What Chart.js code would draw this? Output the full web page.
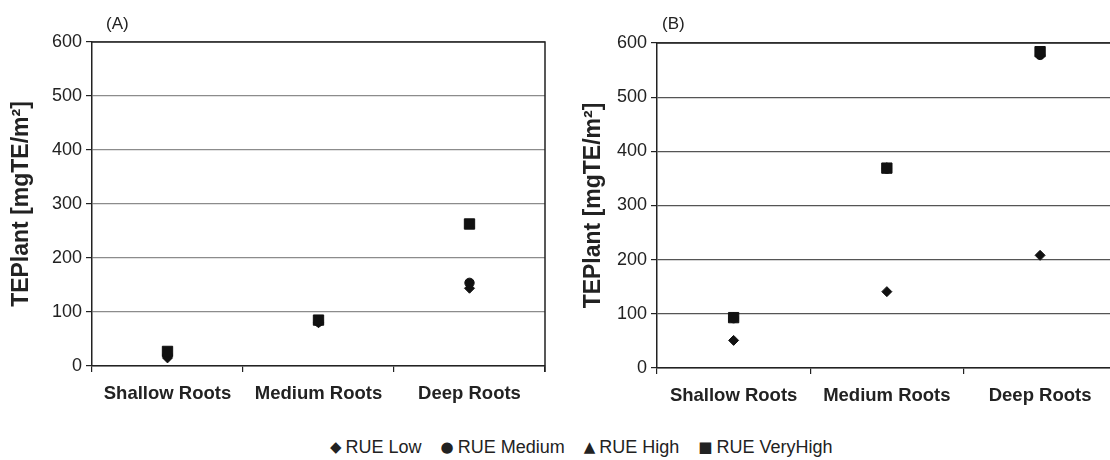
<!DOCTYPE html>
<html>
<head>
<meta charset="utf-8">
<script src="https://cdn.jsdelivr.net/npm/chart.js@4.4.1/dist/chart.umd.min.js"></script>
<style>
  html, body { margin:0; padding:0; background:#fff; width:1110px; height:460px; overflow:hidden; position:relative; font-family:"Liberation Sans", Arial, sans-serif; color:#222; }
  .wrap { position:absolute; top:0; }
  .panel { position:absolute; font-size:17px; color:#222; }
  #legend { position:absolute; left:330px; top:437px; font-size:18px; white-space:nowrap; color:#222; }
  #legend span.item { margin-right:14px; }
  #legend span.sym { font-family:"DejaVu Sans", sans-serif; font-size:15px; margin-right:4px; position:relative; top:-1px; }
</style>
</head>
<body>
<div class="wrap" style="left:0;width:560px;height:420px;"><canvas id="cA" width="560" height="420"></canvas></div>
<div class="wrap" style="left:560px;width:565px;height:420px;"><canvas id="cB" width="565" height="420"></canvas></div>
<div class="panel" style="left:106px;top:14px;">(A)</div>
<div class="panel" style="left:662px;top:14px;">(B)</div>
<div id="legend">
  <span class="item"><span class="sym">◆</span>RUE Low</span>
  <span class="item"><span class="sym">●</span>RUE Medium</span>
  <span class="item"><span class="sym">▲</span>RUE High</span>
  <span class="item"><span class="sym">■</span>RUE VeryHigh</span>
</div>
<script>
// ---- data ----
const categories = ["Shallow Roots", "Medium Roots", "Deep Roots"];
const seriesNames = ["RUE Low", "RUE Medium", "RUE High", "RUE VeryHigh"];
const yTicks = [0, 100, 200, 300, 400, 500, 600];

// Panel (A)
const A_low      = [15, 80, 144];
const A_medium   = [20, 82, 154];
const A_high     = [25, 83, 262];
const A_veryHigh = [27, 85, 263];

// Panel (B)
const B_low      = [51, 141, 208];
const B_medium   = [92, 368, 578];
const B_high     = [93, 369, 582];
const B_veryHigh = [93, 369, 584];

// ---- styling ----
const FONT = "'Liberation Sans', Arial, sans-serif";
const styles = [
  { pointStyle: 'rectRot', pointRadius: 5, order: 3 },
  { pointStyle: 'circle', pointRadius: 4.7, order: 2 },
  { pointStyle: 'triangle', pointRadius: 5.5, order: 1 },
  { pointStyle: 'rect', pointRadius: 7.3, order: 0 }
];

const framePlugin = {
  id: 'frame',
  afterDraw(chart) {
    const { ctx, chartArea: a } = chart;
    ctx.save();
    ctx.strokeStyle = '#222';
    ctx.lineWidth = 1.5;
    ctx.beginPath();
    ctx.moveTo(a.left, a.top);
    ctx.lineTo(a.right, a.top);
    ctx.lineTo(a.right, a.bottom + 6);
    ctx.stroke();
    ctx.restore();
  }
};

function makeChart(id, seriesData, cfg) {
  const datasets = seriesData.map((d, i) => ({
    label: seriesNames[i],
    data: d,
    showLine: false,
    pointStyle: styles[i].pointStyle,
    pointRadius: styles[i].pointRadius,
    pointHoverRadius: styles[i].pointRadius,
    pointBackgroundColor: '#111',
    pointBorderColor: '#111',
    pointBorderWidth: 1,
    order: styles[i].order
  }));
  return new Chart(document.getElementById(id), {
    type: 'line',
    data: { labels: categories, datasets },
    options: {
      responsive: false,
      animation: false,
      layout: { padding: { top: cfg.top, right: cfg.right, left: 0, bottom: 0 } },
      plugins: { legend: { display: false }, tooltip: { enabled: false } },
      scales: {
        x: {
          type: 'category',
          offset: true,
          grid: { offset: true, drawOnChartArea: false, drawTicks: true, tickLength: 6, color: '#222', lineWidth: 1.2 },
          border: { display: true, color: '#222', width: 1.5 },
          ticks: { padding: 11, color: '#222', font: { family: FONT, size: 18.5, weight: 'bold' }, maxRotation: 0 },
          afterFit(scale) { scale.height = cfg.xHeight; }
        },
        y: {
          min: 0, max: 600,
          afterBuildTicks(scale) { scale.ticks = yTicks.map(v => ({ value: v })); },
          grid: { color: cfg.gridColor, lineWidth: 1.2, tickLength: 6, tickColor: '#222' },
          border: { display: true, color: '#222', width: 1.5 },
          ticks: { padding: 4, color: '#222', font: { family: FONT, size: 18 } },
          title: { display: true, text: 'TEPlant [mgTE/m²]', color: '#222', font: { family: FONT, size: 23, weight: 'bold' }, padding: { top: cfg.titlePad, bottom: 0 } },
          afterFit(scale) { scale.width = cfg.yWidth; }
        }
      }
    },
    plugins: [framePlugin]
  });
}

makeChart('cA', [A_low, A_medium, A_high, A_veryHigh], { top: 42, right: 15, xHeight: 54, yWidth: 92, titlePad: 8, gridColor: '#8c8c8c' });
makeChart('cB', [B_low, B_medium, B_high, B_veryHigh], { top: 43, right: 7, xHeight: 52, yWidth: 97, titlePad: 20, gridColor: '#555' });
</script>
</body>
</html>
